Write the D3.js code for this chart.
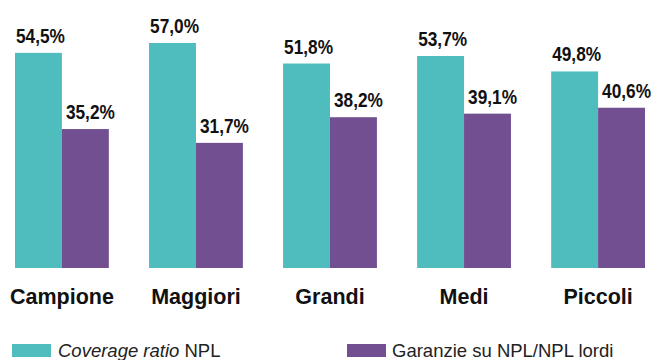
<!DOCTYPE html>
<html>
<head>
<meta charset="utf-8">
<script src="https://cdn.jsdelivr.net/npm/d3@7"></script>
<style>
  html, body { margin: 0; padding: 0; background: #fff; }
  svg { display: block; }
</style>
</head>
<body>
<svg id="chart" width="653" height="360"></svg>
<script>
// Categories and series values (percent)
const categories = ["Campione", "Maggiori", "Grandi", "Medi", "Piccoli"];
const coverageRatio = [54.5, 57.0, 51.8, 53.7, 49.8];
const garanzie = [35.2, 31.7, 38.2, 39.1, 40.6];
const seriesNames = ["Coverage ratio NPL", "Garanzie su NPL/NPL lordi"];

const colors = ["#4FBDBE", "#714F90"];
const fmt = v => d3.format(".1f")(v).replace(".", ",") + "%";

const svg = d3.select("#chart");
const baseline = 268;

const x0 = d3.scaleBand().domain(categories).range([15, 645]).paddingInner(0.3).paddingOuter(0);
const x1 = d3.scaleBand().domain([0, 1]).range([0, x0.bandwidth()]).padding(0);
const y = d3.scaleLinear().domain([0, 57]).range([baseline, 43]);

const series = [coverageRatio, garanzie];
const labelOffset = [1, 4];
const labelWidth = 49;

const groups = svg.selectAll("g.group")
  .data(categories)
  .join("g")
  .attr("class", "group")
  .attr("transform", d => `translate(${x0(d)},0)`);

groups.each(function(cat, i) {
  const g = d3.select(this);
  series.forEach((vals, s) => {
    const v = vals[i];
    g.append("rect")
      .attr("x", x1(s))
      .attr("y", y(v))
      .attr("width", x1.bandwidth())
      .attr("height", y(0) - y(v))
      .attr("fill", colors[s]);
    // condensed bold value label (horizontally squeezed)
    const t = g.append("text")
      .attr("font-family", "'Liberation Sans', Arial, sans-serif")
      .attr("font-weight", "bold")
      .attr("font-size", 20)
      .attr("fill", "#111")
      .text(fmt(v));
    const sx = labelWidth / t.node().getComputedTextLength();
    t.attr("transform", `translate(${x1(s) + labelOffset[s]},${y(v) - 10}) scale(${sx},1)`);
  });
});

// Category axis labels
const xAxis = d3.axisBottom(x0).tickSize(0).tickPadding(0);
const axisG = svg.append("g")
  .attr("transform", `translate(0,${baseline})`)
  .call(xAxis);
axisG.select(".domain").remove();
axisG.selectAll("text")
  .attr("y", 36)
  .attr("dy", 0)
  .attr("font-family", "'Liberation Sans', Arial, sans-serif")
  .attr("font-weight", "bold")
  .attr("font-size", 21.5)
  .attr("fill", "#111");

// Legend
const legend = [
  { x: 12, textX: 58 },
  { x: 347, textX: 392 }
];
legend.forEach((l, s) => {
  svg.append("rect")
    .attr("x", l.x).attr("y", 344)
    .attr("width", 39).attr("height", 13)
    .attr("fill", colors[s]);
  const t = svg.append("text")
    .attr("x", l.textX).attr("y", 357)
    .attr("font-family", "'Liberation Sans', Arial, sans-serif")
    .attr("font-size", 18.5)
    .attr("fill", "#222");
  if (s === 0) {
    t.append("tspan").attr("font-style", "italic").text("Coverage ratio");
    t.append("tspan").text(" NPL");
  } else {
    t.text(seriesNames[1]);
  }
});
</script>
</body>
</html>
